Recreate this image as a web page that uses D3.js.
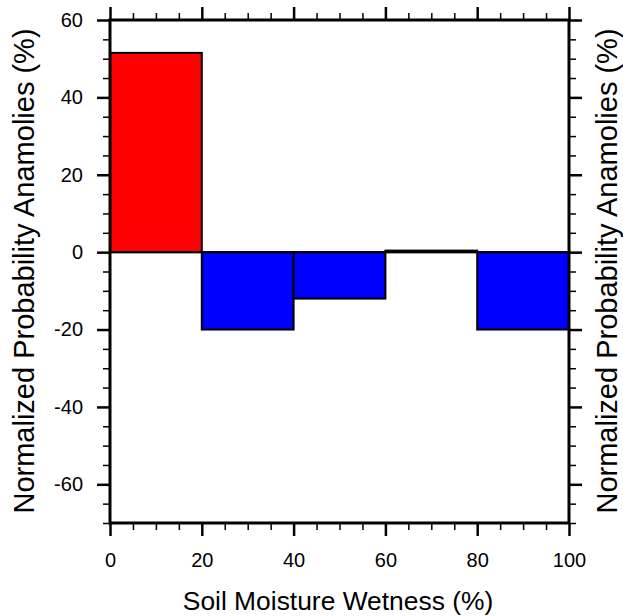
<!DOCTYPE html>
<html>
<head>
<meta charset="utf-8">
<script src="https://cdn.jsdelivr.net/npm/d3@7"></script>
<style>
  body { margin: 0; background: #fff; }
  svg { display: block; font-family: "Liberation Sans", Arial, Helvetica, sans-serif; }
</style>
</head>
<body>
<svg id="chart" width="623" height="616"></svg>
<script>
// Bin edges (soil moisture wetness, %) and anomaly per bin (%)
const binStarts = [0, 20, 40, 60, 80];
const binWidth = 20;
const anomalies = [51.5, -20, -12, 0.4, -20];
const xTicks = [0, 20, 40, 60, 80, 100];
const yTicks = [-60, -40, -20, 0, 20, 40, 60];

const svg = d3.select("#chart");
const plotL = 110, plotR = 569, plotT = 20, plotB = 523;

const x = d3.scaleLinear().domain([0, 100]).range([plotL, plotR]);
const y = d3.scaleLinear().domain([-70, 60]).range([plotB, plotT]);

// Bars
svg.append("g").selectAll("rect")
  .data(binStarts.map((s, i) => ({ s, v: anomalies[i] })))
  .join("rect")
  .attr("x", d => x(d.s))
  .attr("width", d => x(d.s + binWidth) - x(d.s))
  .attr("y", d => y(Math.max(0, d.v)))
  .attr("height", d => Math.abs(y(d.v) - y(0)))
  .attr("fill", d => d.v >= 0 ? "#ff0000" : "#0000ff")
  .attr("stroke", "#000")
  .attr("stroke-width", 2);

// Zero reference line
svg.append("line")
  .attr("x1", plotL).attr("x2", plotR)
  .attr("y1", y(0)).attr("y2", y(0))
  .attr("stroke", "#000").attr("stroke-width", 2);

// Axes: major ticks labelled, minor ticks every 5
const xMinor = d3.range(0, 101, 5).filter(v => v % 20 !== 0);
const yMinor = d3.range(-70, 61, 5).filter(v => v % 20 !== 0);
const fmt = d => String(d); // plain hyphen minus

function axisPair(axisFn, scale, major, minor, transform, labels, pad) {
  const g = svg.append("g").attr("transform", transform);
  g.call(axisFn(scale).tickValues(major).tickSize(13).tickPadding(pad)
    .tickFormat(labels ? fmt : ""));
  g.call(gg => gg.select(".domain").remove());
  g.selectAll(".tick line").attr("stroke-width", 2.5);
  const m = svg.append("g").attr("transform", transform);
  m.call(axisFn(scale).tickValues(minor).tickSize(7).tickFormat(""));
  m.call(gg => gg.select(".domain").remove());
  m.selectAll(".tick line").attr("stroke-width", 1.5);
  g.selectAll("text").attr("font-size", 20).attr("fill", "#000")
    .attr("font-family", "'Liberation Sans', Arial, sans-serif");
  return g;
}

axisPair(d3.axisBottom, x, xTicks, xMinor, `translate(0,${plotB})`, true, 17);
axisPair(d3.axisTop, x, xTicks, xMinor, `translate(0,${plotT})`, false, 3);
axisPair(d3.axisLeft, y, yTicks, yMinor, `translate(${plotL},0)`, true, 14);
axisPair(d3.axisRight, y, yTicks, yMinor, `translate(${plotR},0)`, false, 3);

// Frame
svg.append("rect")
  .attr("x", plotL).attr("y", plotT)
  .attr("width", plotR - plotL).attr("height", plotB - plotT)
  .attr("fill", "none").attr("stroke", "#000").attr("stroke-width", 3);

// Axis titles
svg.append("text")
  .attr("x", 338).attr("y", 610)
  .attr("text-anchor", "middle").attr("font-size", 26.4)
  .text("Soil Moisture Wetness (%)");

const yTitle = "Normalized Probability Anamolies (%)";
svg.append("text")
  .attr("transform", "translate(34,271) rotate(-90)")
  .attr("text-anchor", "middle").attr("font-size", 29)
  .text(yTitle);
svg.append("text")
  .attr("transform", "translate(617,271) rotate(-90)")
  .attr("text-anchor", "middle").attr("font-size", 29)
  .text(yTitle);
</script>
</body>
</html>
